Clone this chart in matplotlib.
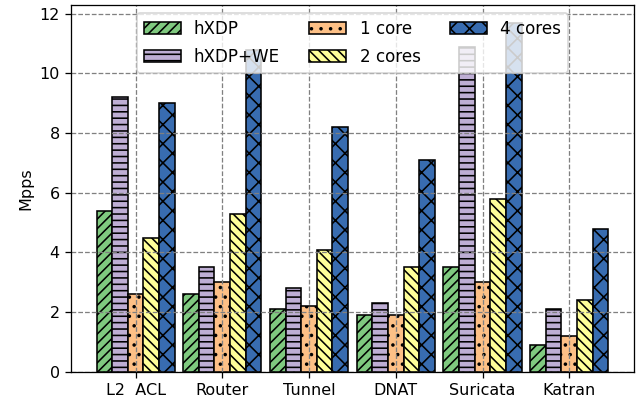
import matplotlib
matplotlib.use("Agg")
import matplotlib.pyplot as plt
import numpy as np

categories = ["L2  ACL", "Router", "Tunnel", "DNAT", "Suricata", "Katran"]
series_names = ["hXDP", "hXDP+WE", "1 core", "2 cores", "4 cores"]
hxdp = [5.4, 2.6, 2.1, 1.9, 3.5, 0.9]
hxdp_we = [9.2, 3.5, 2.8, 2.3, 10.9, 2.1]
core1 = [2.6, 3.0, 2.2, 1.9, 3.0, 1.2]
core2 = [4.5, 5.3, 4.1, 3.5, 5.8, 2.4]
core4 = [9.0, 10.8, 8.2, 7.1, 11.7, 4.8]

series = [hxdp, hxdp_we, core1, core2, core4]
colors = ["#7fc97f", "#beaed4", "#fdc086", "#ffff99", "#386cb0"]
hatches = ["////", "---", "..", "\\\\\\\\", "xx"]

DPI = 115
fig, ax = plt.subplots(figsize=(639 / DPI, 402 / DPI), dpi=DPI)
fig.subplots_adjust(left=0.111, right=0.992, top=0.988, bottom=0.075)

x = np.arange(len(categories))
w = 0.18
for i, (vals, name) in enumerate(zip(series, series_names)):
    ax.bar(x + (i - 2) * w, vals, w, color=colors[i], edgecolor="black",
           linewidth=1.0, hatch=hatches[i], label=name)

ax.set_xticks(x)
ax.set_xticklabels(categories)
ax.set_ylim(0, 12.3)
ax.set_ylabel("Mpps")
ax.grid(True, color="gray", linestyle="--", linewidth=0.8)
ax.legend(loc="upper center", ncol=3, framealpha=0.8, fontsize=10.5,
          borderaxespad=0.5, columnspacing=1.75, handlelength=2.2,
          labelspacing=0.6)

fig.savefig("out.png", dpi=DPI)
